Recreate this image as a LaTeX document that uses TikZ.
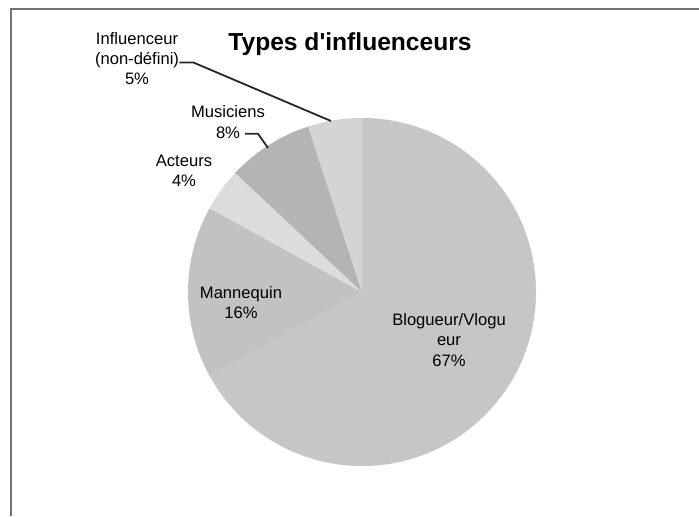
\documentclass[tikz,border=0pt]{standalone}
\usepackage{fontspec}
\setmainfont{Liberation Sans}

\definecolor{blogcol}{HTML}{C6C6C6}
\definecolor{manncol}{HTML}{C2C2C2}
\definecolor{actecol}{HTML}{DCDCDC}
\definecolor{musicol}{HTML}{B4B4B4}
\definecolor{inflcol}{HTML}{D4D4D4}

\tikzset{
	lbl/.style={font=\fontsize{8.3}{10.2}\selectfont, align=center, inner sep=0pt},
	leader/.style={draw=black!85, line width=0.9pt},
	cadre/.style={draw=black!55, line width=1.1pt}
}

\begin{document}
\begin{tikzpicture}[x=0.5pt,y=0.5pt]
				\useasboundingbox (0,0) rectangle (699,516);
				\draw[cadre] (699,507) -- (11,507) -- (11,0);
				% secteurs
				\begin{scope}[shift={(362,224)}]
					\fill[blogcol] (0,0) -- (90:174) arc[start angle=90, end angle=-151.2, radius=174] -- cycle;
					\fill[manncol] (0,0) -- (208.8:174) arc[start angle=208.8, end angle=151.2, radius=174] -- cycle;
					\fill[actecol] (0,0) -- (151.2:174) arc[start angle=151.2, end angle=136.8, radius=174] -- cycle;
					\fill[musicol] (0,0) -- (136.8:174) arc[start angle=136.8, end angle=108, radius=174] -- cycle;
					\fill[inflcol] (0,0) -- (108:174) arc[start angle=108, end angle=90, radius=174] -- cycle;
				\end{scope}
				\node[font=\fontsize{12.3}{14}\selectfont\bfseries, anchor=base] (titre) at (350,466) {Types d\textquotesingle influenceurs};
				\node[lbl] (infl) at (137,457.5) {Influenceur\\(non-défini)\\5\%};
				\node[lbl] (musi) at (228,394) {Musiciens\\8\%};
				\node[lbl] (acte) at (184,345) {Acteurs\\4\%};
				\node[lbl] (mann) at (241,213.5) {Mannequin\\16\%};
				\node[lbl] (blog) at (449,176) {Blogueur/Vlogu\\eur\\67\%};
				\coordinate (inflpt) at (331,395);
				\coordinate (musipt) at (268,368);
				\draw[leader] ([yshift=-2pt]infl.east) -- ++(14,0) -- (inflpt);
				\draw[leader] ([shift={(17,5)}]musi.south) -- ++(13,0) -- (musipt);
			\end{tikzpicture}
\end{document}
